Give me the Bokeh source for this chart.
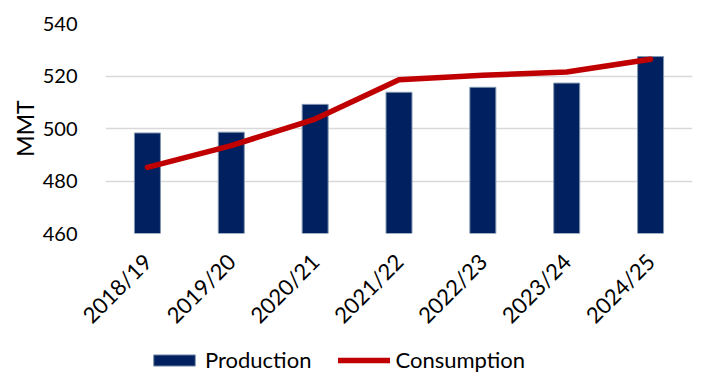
import math
from bokeh.plotting import figure
from bokeh.layouts import column
from bokeh.models import Legend, LegendItem, FixedTicker
from bokeh.embed import file_html
from bokeh.resources import INLINE

years = ["2018/19", "2019/20", "2020/21", "2021/22", "2022/23", "2023/24", "2024/25"]
production = [498.3, 498.6, 509.2, 513.8, 515.7, 517.3, 527.4]
consumption = [485.2, 493.5, 503.6, 518.6, 520.3, 521.5, 526.4]
y_ticks = [460, 480, 500, 520, 540]

FONT = "Lato"
TOP_H = 340

p = figure(x_range=years, y_range=(460, 540), output_backend="svg", toolbar_location=None,
           width=701, height=TOP_H, min_border_left=105, min_border_top=23,
           min_border_right=9, min_border_bottom=TOP_H - 234)
p.outline_line_color = None

bars = p.vbar(x=years, top=production, bottom=460, width=0.31, fill_color="#002060",
              line_color="#8497B0", line_width=1)
line = p.line(x=years, y=consumption, line_color="#C00000", line_width=5.5, line_cap="round",
              line_join="round")

p.yaxis.ticker = FixedTicker(ticks=y_ticks)
p.yaxis.axis_line_color = None
p.yaxis.major_tick_line_color = None
p.yaxis.minor_tick_line_color = None
p.yaxis.major_label_text_font = FONT
p.yaxis.major_label_text_font_size = "20px"
p.yaxis.major_label_text_color = "#000000"
p.yaxis.axis_label = "MMT"
p.yaxis.axis_label_text_font = FONT
p.yaxis.axis_label_text_font_size = "23px"
p.yaxis.axis_label_text_font_style = "normal"
p.yaxis.axis_label_text_color = "#000000"
p.yaxis.major_label_standoff = 22
p.yaxis.axis_label_standoff = 1

p.xaxis.axis_line_color = None
p.xaxis.major_tick_line_color = None
p.xaxis.minor_tick_line_color = None
p.xaxis.major_label_orientation = math.pi / 4
p.xaxis.major_label_text_font = FONT
p.xaxis.major_label_text_font_size = "22px"
p.xaxis.major_label_text_color = "#000000"
p.xaxis.major_label_standoff = 18

p.xgrid.grid_line_color = None
p.ygrid.grid_line_color = "#D9D9D9"
p.ygrid.grid_line_width = 1.5

# legend strip: a second figure holding hidden copies of the two series
LEG_H = 40
q = figure(x_range=years, y_range=(460, 540), output_backend="svg", toolbar_location=None,
           width=701, height=LEG_H, min_border=0, x_axis_location=None, y_axis_location=None)
q.outline_line_color = None
q.grid.visible = False
qbars = q.vbar(x=years, top=production, bottom=460, width=0.31, fill_color="#002060",
               line_color="#8497B0", line_width=1, visible=False)
qline = q.line(x=years, y=consumption, line_color="#C00000", line_width=5.5, line_cap="round",
               visible=False)

legend = Legend(items=[LegendItem(label="Production", renderers=[qbars]),
                       LegendItem(label="Consumption", renderers=[qline])],
                orientation="horizontal", location=(43, 7))
legend.border_line_color = None
legend.background_fill_alpha = 0
legend.inactive_fill_alpha = 0
legend.label_text_font = FONT
legend.label_text_font_size = "22px"
legend.label_text_color = "#000000"
legend.glyph_width = 52
legend.glyph_height = 14
legend.spacing = 27
legend.label_standoff = 5
legend.margin = 0
legend.padding = 4
q.add_layout(legend, "center")

layout = column(p, q, spacing=0)
open("out.html", "w").write(file_html(layout, INLINE))
